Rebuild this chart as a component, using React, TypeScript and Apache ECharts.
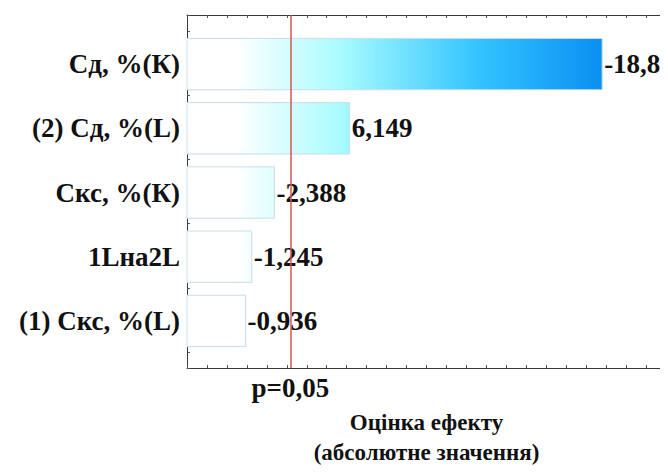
import React, { useEffect, useRef } from "react";
import * as echarts from "echarts";

// Pareto chart of standardized effects
const factors = ["Сд, %(К)", "(2) Сд, %(L)", "Скс, %(К)", "1Lна2L", "(1) Скс, %(L)"];
const effects = [-18.8, 6.149, -2.388, -1.245, -0.936];
const pCritical = 3.18;
const pLabel = "p=0,05";
const xMin = -2;
const xMax = 22;

const FONT = "Liberation Serif, Times New Roman, serif";
const FS = 27;

const fmt = (v: number) => String(v).replace(".", ",");

export default function App() {
  const ref = useRef<HTMLDivElement>(null);

  useEffect(() => {
    if (!ref.current) return;
    const chart = echarts.init(ref.current, null, { renderer: "svg" });
    const maxAbs = Math.max(...effects.map((v) => Math.abs(v)));

    const frameAxis = {
      axisLine: { show: true, onZero: false, lineStyle: { color: "#3a3a3a", width: 1 } },
      axisTick: { show: true, inside: true, length: 3, lineStyle: { color: "#555" } },
      axisLabel: { show: false },
      splitLine: { show: false },
    };

    chart.setOption({
      animation: false,
      backgroundColor: "#ffffff",
      textStyle: { fontFamily: FONT },
      grid: [
        { left: 187, right: 2, top: 15, bottom: 105, outerBoundsMode: "none", containLabel: false },
        { left: 187, right: 2, top: 32, bottom: 120, outerBoundsMode: "none", containLabel: false },
      ],
      xAxis: [
        {
          gridIndex: 0, type: "value", min: xMin, max: xMax, interval: 1, position: "bottom",
          ...frameAxis,
          name: "Оцінка ефекту\n(абсолютне значення)",
          nameLocation: "middle",
          nameGap: 39,
          nameTextStyle: { fontFamily: FONT, fontWeight: "bold", fontSize: 23, color: "#111", lineHeight: 30 },
        },
        { gridIndex: 0, type: "value", min: xMin, max: xMax, interval: 1, position: "top", ...frameAxis },
        { gridIndex: 1, type: "value", min: xMin, max: xMax, show: false },
      ],
      yAxis: [
        { gridIndex: 0, type: "value", inverse: true, min: -0.75, max: 4.75, interval: 0.25, position: "left", ...frameAxis },
        { gridIndex: 0, type: "value", inverse: true, min: -0.75, max: 4.75, interval: 0.25, position: "right", ...frameAxis },
        {
          gridIndex: 1, type: "category", data: factors, inverse: true, position: "left",
          axisLine: { show: false, onZero: false },
          axisTick: { show: true, alignWithLabel: true, inside: true, length: 6, lineStyle: { color: "#333" } },
          axisLabel: { fontFamily: FONT, fontWeight: "bold", fontSize: FS, color: "#111", margin: 7 },
        },
        {
          gridIndex: 1, type: "category", data: factors, inverse: true, position: "right",
          axisLine: { show: false, onZero: false },
          axisTick: { show: true, alignWithLabel: true, inside: true, length: 6, lineStyle: { color: "#333" } },
          axisLabel: { show: false },
        },
      ],
      series: [
        {
          type: "custom",
          xAxisIndex: 2,
          yAxisIndex: 2,
          data: effects.map((v, i) => [Math.abs(v), i, v]),
          encode: { x: 0, y: 1 },
          renderItem: (params: any, api: any) => {
            const val = api.value(0);
            const idx = api.value(1);
            const signed = api.value(2);
            const start = api.coord([xMin, idx]);
            const end = api.coord([val, idx]);
            const band = api.size([0, 1])[1];
            const h = band * 0.8;
            const gx0 = api.coord([xMin, 0])[0];
            const gx1 = api.coord([maxAbs, 0])[0];
            return {
              type: "group",
              children: [
                {
                  type: "rect",
                  shape: { x: start[0], y: start[1] - h / 2, width: end[0] - start[0], height: h },
                  style: {
                    fill: {
                      type: "linear", x: gx0, y: 0, x2: gx1, y2: 0, global: true,
                      colorStops: [
                        { offset: 0, color: "#ffffff" },
                        { offset: 0.12, color: "#ffffff" },
                        { offset: 0.37, color: "#a8fbff" },
                        { offset: 0.7, color: "#33c4ff" },
                        { offset: 1, color: "#0a8ff2" },
                      ],
                    },
                    stroke: "#c9dcea",
                    lineWidth: 1,
                  },
                },
                {
                  type: "text",
                  x: end[0] + 2,
                  y: end[1],
                  style: {
                    text: fmt(signed),
                    fontFamily: FONT,
                    fontWeight: "bold",
                    fontSize: FS,
                    fill: "#111",
                    verticalAlign: "middle",
                    align: "left",
                  },
                },
              ],
            };
          },
          z: 2,
        },
        {
          type: "scatter",
          xAxisIndex: 0,
          yAxisIndex: 0,
          data: [[pCritical, 4.75]],
          symbolSize: 0,
          silent: true,
          z: 5,
          markLine: {
            silent: true,
            symbol: "none",
            data: [{ xAxis: pCritical }],
            lineStyle: { color: "#d6554f", type: "solid", width: 1.5 },
            label: {
              show: true,
              position: "end",
              formatter: pLabel,
              fontFamily: FONT,
              fontWeight: "bold",
              fontSize: 27,
              color: "#111",
              distance: 6,
            },
          },
        },
      ],
    });
    return () => chart.dispose();
  }, []);

  return <div ref={ref} style={{ width: 668, height: 473, margin: -8 }} />;
}
